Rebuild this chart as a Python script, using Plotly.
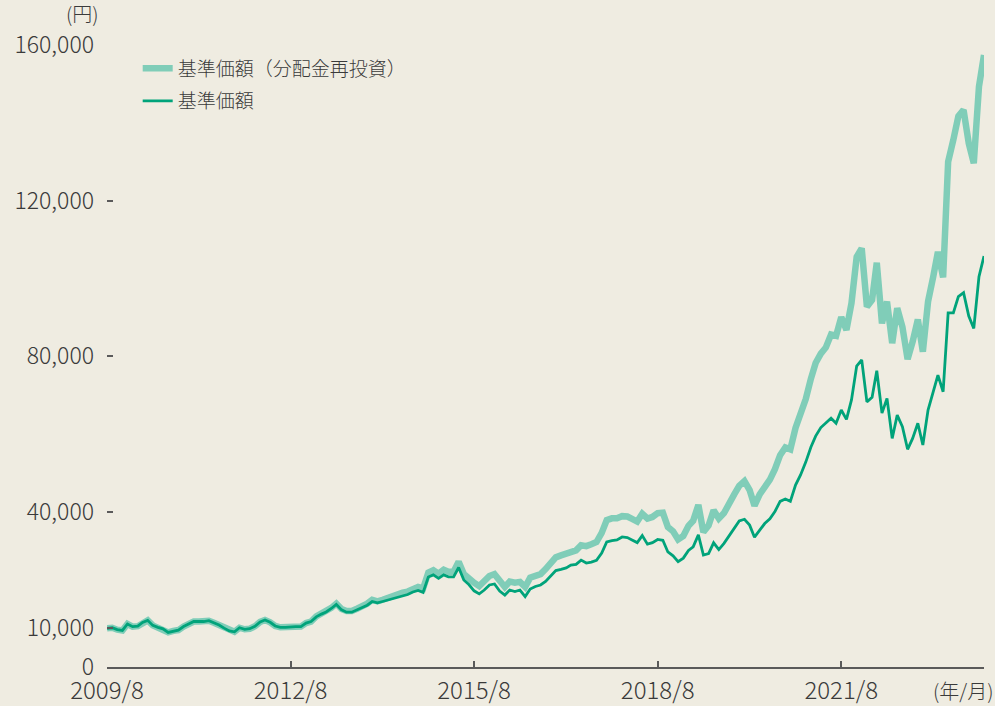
import pandas as pd
import plotly.graph_objects as go

start_month = "2009-08-01"
n_months = 173

nav = [9950,10100,9600,9400,11060,10370,10500,11450,12000,10700,
10200,9800,8900,9300,9500,10400,11000,11700,11700,11700,
11900,11400,10800,10000,9260,9050,10100,9700,9850,10470,
11600,12100,11500,10550,10200,10200,10370,10370,10400,11300,
11700,12900,13600,14150,15050,16100,14700,14100,14100,14700,
15300,15900,16850,16500,16850,17200,17600,18000,18400,18650,
19300,19700,19200,23150,23700,22800,23700,23200,23200,25600,
22400,21200,19600,18800,19800,21100,21350,19550,18500,19800,
19400,19800,18100,20050,20700,21100,22000,23400,24800,25100,
25500,26200,26400,27500,26750,27000,27450,29300,32150,32500,
32700,33450,33300,32700,32000,33800,31600,32000,32800,32600,
29600,28600,27100,28000,30000,30900,34000,28800,29200,31950,
30200,31800,33800,35700,37550,38000,36500,33400,35200,36900,
38100,40000,42600,43200,42600,46800,49400,52700,56600,59400,
61600,62900,64000,62700,66100,63700,68700,77400,79000,68200,
69400,76200,65300,69100,58800,64800,61800,56000,58800,62700,
57100,66100,70600,75100,70800,91100,91100,95300,96300,90300,
87100,100400,105700]

nav_reinvested = [9950,10100,9600,9400,11060,10370,10500,11450,12000,10700,
10200,9800,8900,9300,9500,10400,11000,11700,11700,11700,
11900,11400,10800,10000,9260,9050,10100,9700,9850,10470,
11600,12100,11500,10550,10200,10200,10370,10370,10400,11300,
11700,13000,13700,14300,15200,16300,14900,14400,14400,15000,
15600,16300,17300,16900,17300,17800,18200,18600,19100,19400,
20100,20600,20200,24300,24900,24000,25000,24500,24500,27100,
23900,22600,21700,20800,21900,23400,23900,21900,20600,22000,
21700,21900,20600,23000,23500,23900,25200,26750,28200,28700,
29100,29700,30000,31300,31100,31600,32150,34500,37800,38250,
38250,38800,38700,38100,37400,39400,38200,38600,39600,39700,
36000,34900,32800,33700,36300,37600,41700,34700,36400,40300,
38200,39600,42400,44400,46600,47800,45500,41500,44400,46300,
48200,50900,54500,56500,56000,61500,64800,68900,74200,78200,
80600,82200,85500,85200,90000,86700,93600,105500,107700,92700,
94400,104000,88400,94000,83300,92300,87500,79200,83700,89400,
81100,94000,100400,106800,100200,130000,135600,141700,143300,134700,
129600,149300,157400]

x_tick_dates = ["2009-08-01","2012-08-01","2015-08-01","2018-08-01","2021-08-01"]
x_tick_text = ["2009/8","2012/8","2015/8","2018/8","2021/8"]
y_tick_vals = [0,10000,40000,80000,120000,160000]
y_tick_text = ["0","10,000","40,000","80,000","120,000","160,000"]

dates = pd.date_range(start_month, periods=n_months, freq="MS")

FONT = "Noto Sans CJK JP, Noto Sans, sans-serif"
TXT = "#3a3a3a"
BG = "#efece1"

fig = go.Figure()
fig.add_trace(go.Scatter(x=dates, y=nav_reinvested, mode="lines",
                         name="基準価額（分配金再投資）", legendgroup="a",
                         line=dict(color="#80cdb8", width=6.5)))
fig.add_trace(go.Scatter(x=dates, y=nav, mode="lines",
                         name="基準価額", legendgroup="b",
                         line=dict(color="#00a37a", width=2.8)))

fig.update_layout(
    width=995, height=706,
    margin=dict(l=107, r=11, t=45, b=39),
    paper_bgcolor=BG, plot_bgcolor=BG,
    font=dict(family=FONT, color=TXT, size=20, weight=300),
    showlegend=True,
    legend=dict(x=0.035, y=0.993, xanchor="left", yanchor="top",
                bgcolor="rgba(0,0,0,0)", font=dict(size=19, color=TXT, weight=300),
                tracegroupgap=5, itemwidth=30),
    xaxis=dict(range=[dates[0], dates[-1]], showgrid=False, zeroline=False,
               showline=True, linecolor="#5a5a5a", linewidth=1.5,
               ticks="inside", ticklen=6, tickwidth=1.5, tickcolor="#5a5a5a",
               tickvals=x_tick_dates, ticktext=x_tick_text, automargin=False,
               tickfont=dict(size=24, color=TXT, weight=300), ticklabelstandoff=1),
    yaxis=dict(range=[0, 160000], showgrid=False, zeroline=False, showline=False,
               ticks="inside", ticklen=6, tickwidth=1.5, tickcolor="#5a5a5a",
               tickvals=y_tick_vals, ticktext=y_tick_text, automargin=False,
               tickfont=dict(size=23, color=TXT, weight=300), ticklabelstandoff=12),
    annotations=[
        dict(text="(円)", xref="paper", yref="paper", x=-0.028, y=1.05,
             xanchor="center", yanchor="middle", showarrow=False,
             font=dict(size=20, color=TXT, weight=300)),
        dict(text="(年/月)", xref="paper", yref="paper", x=1.0125, y=-0.037,
             xanchor="right", yanchor="middle", showarrow=False,
             font=dict(size=20, color=TXT, weight=300)),
    ],
)

fig.write_html("out.html", config={"displayModeBar": False},
               post_script="document.body.style.margin='0';document.body.style.overflow='hidden';")
